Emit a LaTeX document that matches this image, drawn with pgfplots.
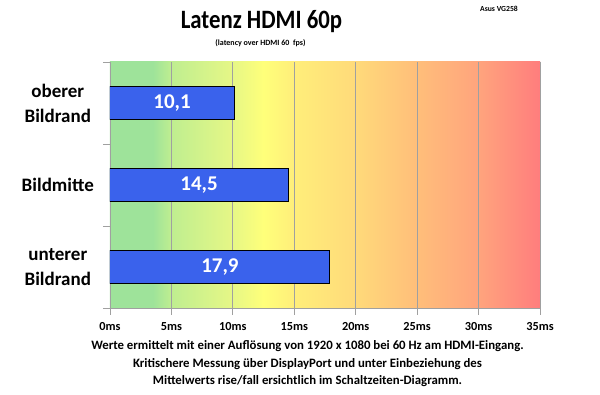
\documentclass[border=0pt]{standalone}
\usepackage{fontspec}
\setmainfont{Carlito}
\usepackage{pgfplots}
\pgfplotsset{compat=1.18}
\definecolor{barblue}{HTML}{3A62EC}
\definecolor{g0}{HTML}{9EE39A}
\definecolor{g1}{HTML}{BFEE90}
\definecolor{g2}{HTML}{E6F786}
\definecolor{g3}{HTML}{FFFF7A}
\definecolor{g4}{HTML}{FFEE7A}
\definecolor{g5}{HTML}{FFDA7A}
\definecolor{g6}{HTML}{FFBE7A}
\definecolor{g7}{HTML}{FFA47D}
\definecolor{g8}{HTML}{FF7D7D}
\definecolor{gridgray}{HTML}{A0A0A0}
\pgfdeclarehorizontalshading{bgshade}{100bp}{color(0bp)=(g0); color(25bp)=(g0); color(30bp)=(g0); color(32.14bp)=(g1); color(39.29bp)=(g2); color(42.86bp)=(g3); color(46.43bp)=(g4); color(53.57bp)=(g5); color(60.71bp)=(g6); color(67.86bp)=(g7); color(75bp)=(g8); color(100bp)=(g8)}
\begin{document}
\begin{tikzpicture}[x=1pt,y=1pt]
\useasboundingbox (0,0) rectangle (600,395);
\begin{axis}[
  at={(110pt,87pt)}, anchor=south west,
  width=430pt, height=246pt, scale only axis,
  xbar, bar width=33pt,
  xmin=0, xmax=35, ymin=-0.5, ymax=2.5,
  axis background/.style={shading=bgshade},
  axis x line*=bottom, axis y line*=left,
  axis line style={gridgray, line width=0.8pt, -},
  xtick={0,5,...,35},
  xticklabels={0ms,5ms,10ms,15ms,20ms,25ms,30ms,35ms},
  xticklabel style={font=\fontsize{12.3}{14}\selectfont\bfseries, yshift=-4pt},
  xmajorgrids, grid style={gridgray, line width=0.8pt},
  ytick={-0.5,0.5,1.5,2.5}, yticklabels={},
  extra y ticks={0,1,2},
  extra y tick labels={{unterer\\Bildrand},Bildmitte,{oberer\\Bildrand}},
  extra y tick style={major tick length=0pt},
  yticklabel style={font=\fontsize{19}{25}\selectfont\bfseries, text width=80pt, align=center, inner sep=0pt, xshift=-12pt},
  tick align=outside, major tick length=7pt,
  tick style={gridgray, line width=0.8pt},
  point meta=x,
  visualization depends on=rawx \as \rawx,
  nodes near coords={\pgfmathprintnumber[fixed, precision=1, fixed zerofill, use comma, assume math mode=true]{\pgfplotspointmeta}},
  every node near coord/.append style={anchor=center, text=white, font=\fontsize{21}{24}\selectfont\bfseries, shift={(axis direction cs:-\rawx/2,0)}},
]
\addplot[fill=barblue, draw=black, line width=1pt] coordinates {(17.9,0) (14.5,1) (10.1,2)};
\end{axis}
\node[anchor=base] at (261.5,366) {\scalebox{0.86}[1]{\fontsize{26.5}{30}\selectfont\bfseries Latenz HDMI 60p}};
\node[anchor=base] at (260.5,349.5) {\fontsize{8}{9}\selectfont\bfseries (latency over HDMI 60\ \ fps)};
\node[anchor=base east, inner sep=0pt] at (518,383) {\fontsize{7.7}{9}\selectfont\bfseries Asus VG258};
\node[anchor=base, align=center, inner sep=0pt, font=\fontsize{12.8}{17.5}\selectfont\bfseries] at (307.5,10) {Werte ermittelt mit einer Auflösung von 1920 x 1080 bei 60 Hz am HDMI-Eingang.\\Kritischere Messung über DisplayPort und unter Einbeziehung des\\Mittelwerts rise/fall ersichtlich im Schaltzeiten-Diagramm.};
\end{tikzpicture}
\end{document}
